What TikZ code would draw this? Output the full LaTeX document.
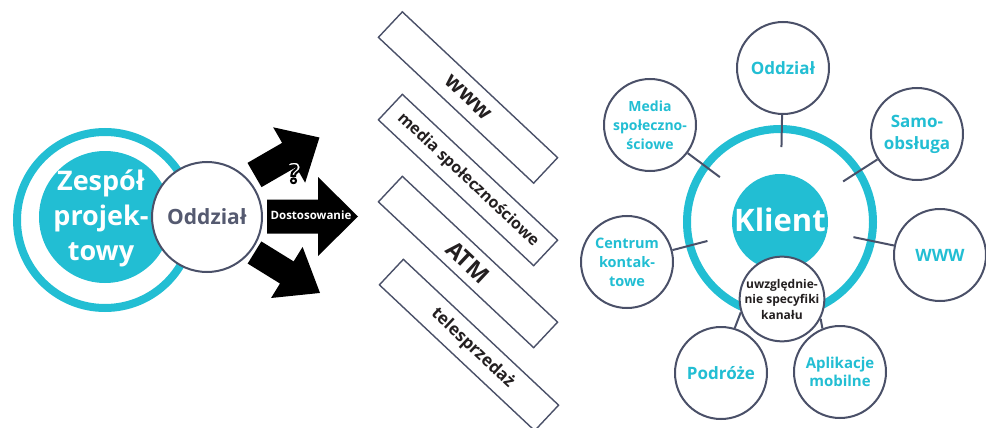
\documentclass[tikz,border=0pt]{standalone}
\usepackage{fontspec}
\setmainfont{Open Sans}
\usetikzlibrary{calc}
\definecolor{tealc}{RGB}{34,190,211}
\definecolor{slate}{RGB}{74,80,104}
\definecolor{slatetxt}{RGB}{85,90,112}
\definecolor{ink}{RGB}{35,31,32}
\newcommand{\fs}[2]{\fontsize{#1}{#2}\selectfont}
\newcommand{\outlined}[1]{\special{pdf:literal direct 2 Tr 2 w 0 0 0 RG}#1\special{pdf:literal direct 0 Tr}}
\begin{document}
\begin{tikzpicture}[x=1pt,y=-1pt,
  sat/.style={circle, draw=slate, line width=2pt, fill=white, minimum size=92pt, inner sep=0pt, align=center, text=tealc, font=\bfseries\fs{17}{22}},
  conn/.style={draw=slate, line width=2pt},
  chan/.style={rectangle, draw=slate, line width=1.4pt, minimum width=213pt, minimum height=35pt, rotate=-43.2, inner sep=0pt, text=ink},
  fatarrow/.style={fill=black},
  qmark/.style={inner sep=0pt, font=\bfseries\fs{29}{29}}
]
\useasboundingbox (0,0) rectangle (986,428);

% ---------- left part ----------
\draw[tealc, line width=8pt] (105,220) circle[radius=88pt];
\fill[tealc] (105,217) circle[radius=66pt];
\node[text=white, align=center, font=\bfseries\fs{27}{35}] (zesp) at (101,218) {Zespół\\projek-\\towy};
\node[circle, draw=slate, line width=2pt, fill=white, minimum size=110pt, inner sep=0pt,
      text=slatetxt, font=\bfseries\fs{21}{24}] (oddl) at (207,217) {Oddział};

% arrows
\fill[fatarrow] (267,199.5) -- (318,199.5) -- (318,177) -- (358,216.5) -- (318,256) -- (318,233.5) -- (267,233.5) -- cycle;
\begin{scope}[shift={(254.5,175)}, rotate=30]
  \fill[fatarrow] (0,-14) -- (40,-14) -- (40,-32) -- (75,0) -- (40,32) -- (40,14) -- (0,14) -- cycle;
\end{scope}
\begin{scope}[shift={(254.5,252.5)}, rotate=-31.7]
  \fill[fatarrow] (0,-13) -- (38,-13) -- (38,-30) -- (77,0) -- (38,30) -- (38,13) -- (0,13) -- cycle;
\end{scope}
\node[text=white, inner sep=0pt, font=\bfseries\fs{11.5}{14}] (dost) at (311,215) {Dostosowanie};

% question mark (white with black outline)
\node[qmark, text=white] (q) at (294.5,172.5) {\outlined{?}};

% channel boxes
\node[chan, font=\bfseries\fs{22}{22}] (b1) at (468,97.5) {www};
\node[chan, font=\bfseries\fs{16}{16}] (b2) at (468,180) {media społecznościowe};
\node[chan, font=\bfseries\fs{23}{23}] (b3) at (468,262) {ATM};
\node[chan, font=\bfseries\fs{17}{17}] (b4) at (469,345) {\hspace*{10pt}telesprzedaż};

% ---------- right part ----------
\coordinate (C) at (780,222);
\draw[tealc, line width=8pt] (C) circle[radius=93pt];
\node[circle, fill=tealc, minimum size=96pt, inner sep=0pt] (klient) at (780,222) {};
\node[text=white, inner sep=0pt, font=\bfseries\fs{31}{31}] (klt) at (780,220) {Klient};

\node[sat] (s1) at (783,68) {Oddział};
\node[sat] (s2) at (917,134) {Samo-\\obsługa};
\node[sat] (s3) at (940,255) {WWW};
\node[sat, font=\bfseries\fs{15}{18}] (s4) at (840,372) {Aplikacje\\mobilne};
\node[sat] (s5) at (721,373) {Podróże};
\node[sat, font=\bfseries\fs{14.5}{19}] (s6) at (627,262) {Centrum\\kontak-\\towe};
\node[sat, font=\bfseries\fs{14}{19}] (s7) at (650,125) {Media\\społeczno-\\ściowe};

\foreach \s in {s1,s2,s3,s6,s7} {
  \coordinate (e\s) at ($(C)!75pt!(\s)$);
  \draw[conn] (\s) -- (e\s);
}

\node[circle, draw=slate, line width=2pt, fill=white, minimum size=80pt, inner sep=0pt, align=center,
      text=ink, font=\bfseries\fs{12}{15.5}] (uwz) at (782,299) {uwzględnie-\\nie specyfiki\\kanału};
\draw[conn] (s5.73) -- (uwz.198);
\draw[conn] (s4.112) -- (uwz.-27);
\end{tikzpicture}
\end{document}
